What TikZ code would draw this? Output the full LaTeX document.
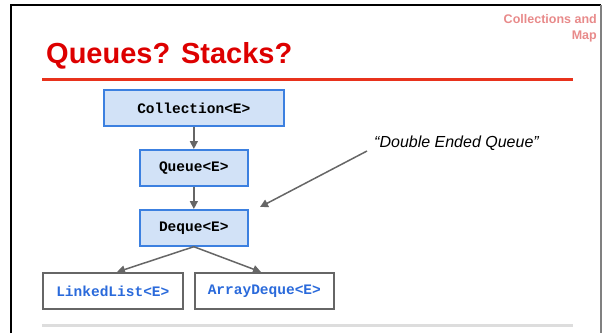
\documentclass[tikz,border=0pt]{standalone}
\usepackage{fontspec}
\setmainfont{Liberation Sans}
\setmonofont{Liberation Mono}
\usetikzlibrary{arrows.meta}
\definecolor{titlered}{HTML}{DD0000}
\definecolor{rulered}{HTML}{E8321C}
\definecolor{pinktxt}{HTML}{E88A8A}
\definecolor{boxfill}{HTML}{D2E2F7}
\definecolor{boxline}{HTML}{3C80E0}
\definecolor{codeblue}{HTML}{2A6ADB}
\definecolor{arrgray}{HTML}{666666}
\definecolor{bottomgray}{HTML}{DDDDDD}
\tikzset{
  iface/.style={draw=boxline, fill=boxfill, line width=1.7pt, inner sep=0pt, anchor=north west,
    font=\fontsize{14.5}{16}\selectfont\ttfamily\bfseries},
  impl/.style={draw=arrgray, fill=white, line width=1.7pt, inner sep=0pt, anchor=north west,
    text=codeblue, font=\fontsize{14.5}{16}\selectfont\ttfamily\bfseries},
  conn/.style={draw=arrgray, line width=1.5pt, -{Triangle[length=8pt,width=8pt]}},
}
\begin{document}
\begin{tikzpicture}[x=1pt,y=-1pt]
\useasboundingbox (0,0) rectangle (602,333);
% frame
\draw[line width=2.5pt, black] (11,333) -- (11,5) -- (601,5);
\draw[line width=1.5pt, black!50] (601,5) -- (601,333);
% title
\node[anchor=base west, inner sep=0pt, text=titlered, font=\fontsize{29}{32}\selectfont\bfseries] (title) at (46,63) {Queues? Stacks?};
\node[anchor=base east, inner sep=0pt, align=right, text=pinktxt, font=\fontsize{12.5}{16}\selectfont\bfseries] (topic) at (597,39) {Collections and\\Map};
\draw[line width=3pt, rulered] (42,79.5) -- (573,79.5);
\draw[line width=3pt, bottomgray] (42,325) -- (573,325);
% boxes
\node[iface, minimum width=180pt, minimum height=36pt] (coll) at (103,89) {Collection<E>};
\node[iface, minimum width=108pt, minimum height=36pt] (queue) at (139,149) {Queue<E>};
\node[iface, minimum width=108pt, minimum height=36pt] (deque) at (139,209) {Deque<E>};
\node[impl, minimum width=140pt, minimum height=36pt] (ll) at (42,272) {LinkedList<E>};
\node[impl, minimum width=139pt, minimum height=36pt] (ad) at (194,272) {ArrayDeque<E>};
% annotation
\node[anchor=base, inner sep=0pt, font=\fontsize{16}{18}\selectfont\itshape] (note) at (456.5,147) {“Double Ended Queue”};
\coordinate (notestart) at (367,151);
\coordinate (noteend) at (260,207);
% connectors
\draw[conn] (coll.south) -- (queue.north);
\draw[conn] (queue.south) -- (deque.north);
\draw[conn] (deque.south) -- (ll.north -| 117,0);
\draw[conn] (deque.south) -- (ad.north -| 261,0);
\draw[conn] (notestart) -- (noteend);
\end{tikzpicture}
\end{document}
